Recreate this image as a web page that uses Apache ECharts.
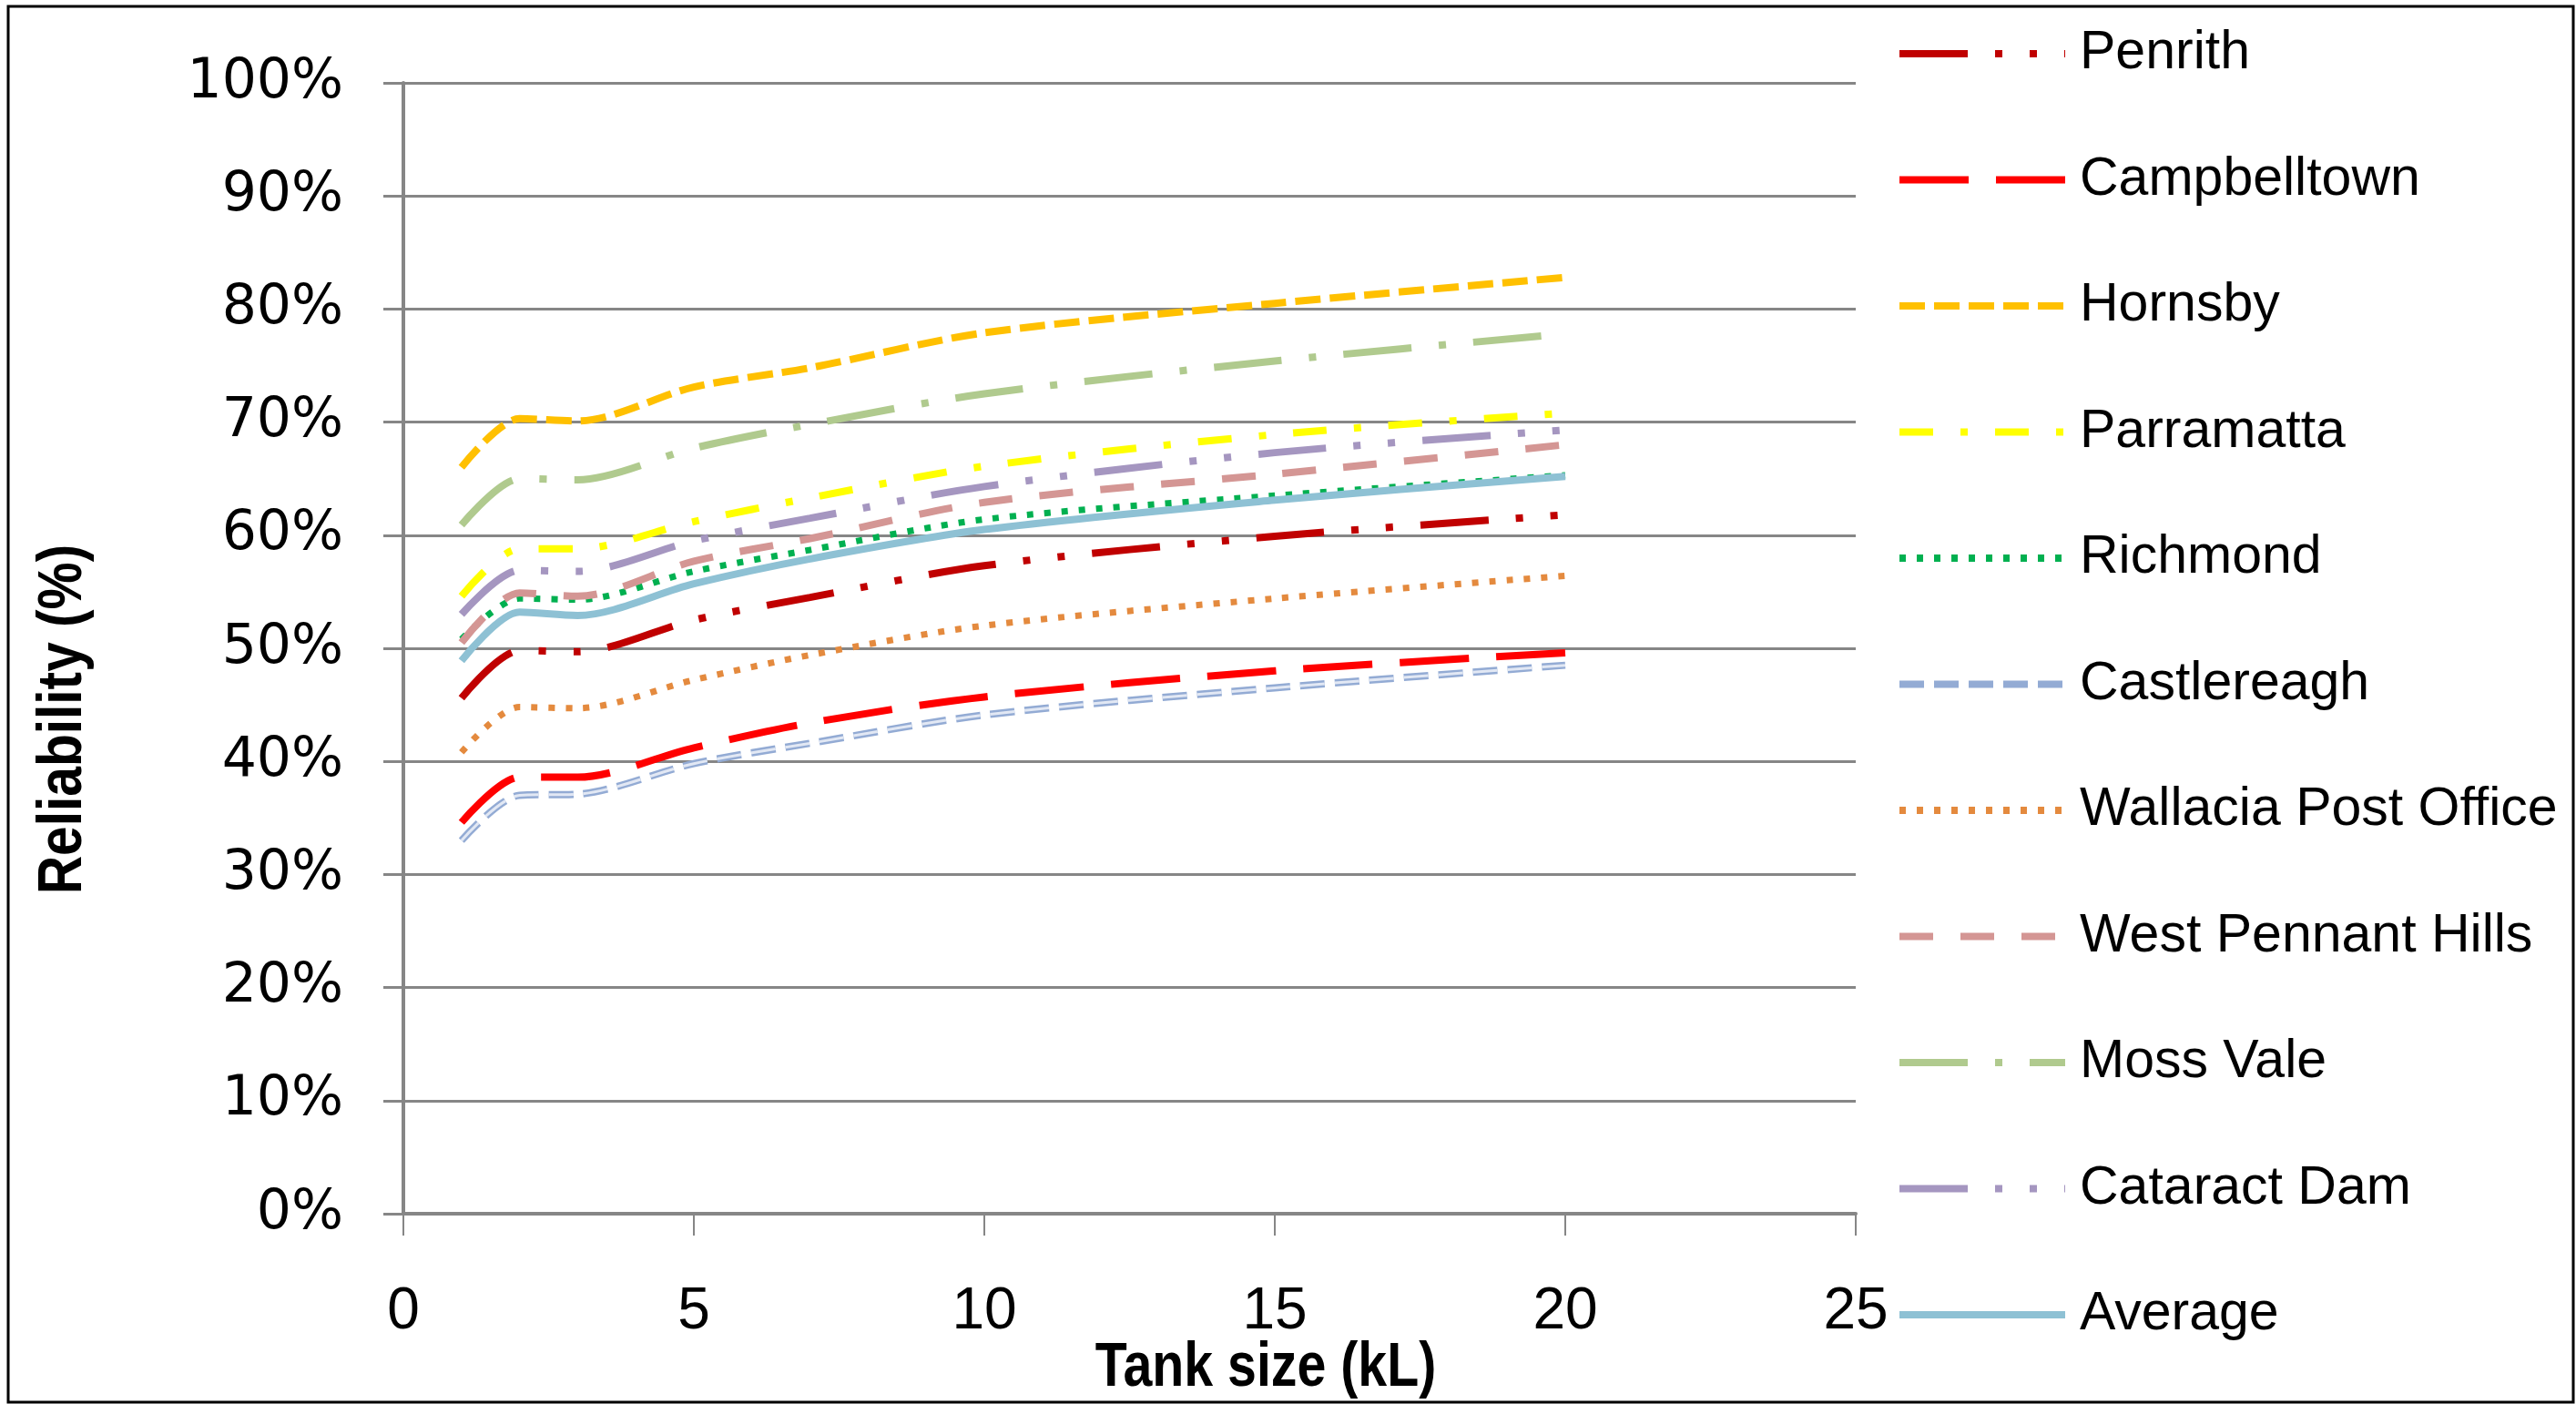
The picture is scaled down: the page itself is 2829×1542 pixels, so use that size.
<!DOCTYPE html>
<html>
<head>
<meta charset="utf-8">
<script src="https://cdn.jsdelivr.net/npm/echarts@6/dist/echarts.min.js"></script>
<style>
  html, body { margin: 0; padding: 0; background: #fff; }
  #chart { width: 2829px; height: 1542px; }
</style>
</head>
<body>
<div id="chart"></div>
<script>
// ---- data ----
const tankSize = [1, 2, 3, 5, 7, 10, 15, 20];
const seriesNames = ['Penrith', 'Campbelltown', 'Hornsby', 'Parramatta', 'Richmond', 'Castlereagh',
  'Wallacia Post Office', 'West Pennant Hills', 'Moss Vale', 'Cataract Dam', 'Average'];
const penrith      = [45.6, 49.8, 49.7, 52.5, 54.5, 57.3, 59.9, 61.8];
const campbelltown = [34.6, 38.6, 38.6, 41.2, 43.4, 45.7, 48.0, 49.6];
const hornsby      = [66.0, 70.3, 70.1, 73.1, 74.8, 77.9, 80.5, 82.8];
const parramatta   = [54.6, 58.8, 58.8, 61.2, 63.3, 66.1, 68.9, 70.8];
const richmond     = [50.8, 54.4, 54.3, 56.8, 58.7, 61.4, 63.5, 65.3];
const castlereagh  = [33.0, 37.0, 37.1, 39.8, 41.6, 44.1, 46.5, 48.5];
const wallacia     = [40.8, 44.8, 44.7, 47.2, 49.4, 52.0, 54.4, 56.4];
const westPennant  = [50.5, 54.9, 54.6, 57.7, 59.7, 62.9, 65.4, 68.0];
const mossVale     = [60.9, 65.0, 64.9, 67.7, 69.8, 72.5, 75.4, 77.8];
const cataractDam  = [53.0, 56.9, 56.8, 59.5, 61.5, 64.3, 67.3, 69.3];
const average      = [48.9, 53.2, 52.9, 55.7, 57.9, 60.5, 63.1, 65.2];
const xTicks = [0, 5, 10, 15, 20, 25];
const yTicks = [0, 10, 20, 30, 40, 50, 60, 70, 80, 90, 100];

const values = [penrith, campbelltown, hornsby, parramatta, richmond, castlereagh,
  wallacia, westPennant, mossVale, cataractDam, average];

// ---- styles ----
const styles = [
  { color: '#C00000', width: 8, dash: [75, 30, 8, 30, 8, 30] },
  { color: '#FF0000', width: 8, dash: [76, 30] },
  { color: '#FFC000', width: 8, dash: [28, 10] },
  { color: '#FFFF00', width: 8, dash: [37, 30, 8, 30] },
  { color: '#00B050', width: 7, dash: [7, 12] },
  { color: '#93ABD4', width: 8, dash: [27, 11] },
  { color: '#E48A3E', width: 7, dash: [7, 12] },
  { color: '#D49694', width: 8, dash: [37, 30] },
  { color: '#B0CA8E', width: 8, dash: [75, 30, 8, 30] },
  { color: '#A596C0', width: 8, dash: [75, 30, 8, 30, 8, 30] },
  { color: '#8EC1D4', width: 8, dash: 'solid' }
];

const SMOOTH = 0.3;
const pairs = arr => tankSize.map((x, i) => [x, arr[i]]);

const series = [];
seriesNames.forEach((name, i) => {
  series.push({
    name: name,
    type: 'line',
    data: pairs(values[i]),
    symbol: 'none',
    smooth: SMOOTH,
    lineStyle: { color: styles[i].color, width: styles[i].width, type: styles[i].dash, cap: 'butt' },
    itemStyle: { color: styles[i].color },
    z: 2 + i
  });
  if (name === 'Castlereagh') {
    series.push({
      name: 'Castlereagh inner',
      type: 'line',
      data: pairs(values[i]),
      symbol: 'none',
      smooth: SMOOTH,
      lineStyle: { color: '#E2E8F4', width: 3, type: styles[i].dash, cap: 'butt' },
      itemStyle: { color: '#E2E8F4' },
      z: 2 + i,
      silent: true
    });
  }
});

const chart = echarts.init(document.getElementById('chart'), null, { renderer: 'canvas' });
const gray = '#868686';
chart.setOption({
  animation: false,
  backgroundColor: '#ffffff',
  grid: { left: 443, right: 791, top: 91, bottom: 209, containLabel: false },
  xAxis: {
    type: 'value', min: xTicks[0], max: xTicks[xTicks.length - 1], interval: 5,
    axisLine: { show: true, lineStyle: { color: gray, width: 4 } },
    axisTick: { show: true, length: 24, lineStyle: { color: gray, width: 2 } },
    splitLine: { show: false },
    axisLabel: {
      margin: 76, color: '#000', fontSize: 64,
      fontFamily: '"Liberation Sans Narrow", "Liberation Sans", sans-serif'
    }
  },
  yAxis: {
    type: 'value', min: yTicks[0], max: yTicks[yTicks.length - 1], interval: 10,
    axisLine: { show: true, lineStyle: { color: gray, width: 4 } },
    axisTick: { show: true, length: 22, lineStyle: { color: gray, width: 3 } },
    splitLine: { show: true, lineStyle: { color: gray, width: 3 } },
    axisLabel: {
      margin: 66, color: '#000', fontSize: 60, fontFamily: '"DejaVu Sans", sans-serif',
      formatter: '{value}%'
    }
  },
  legend: {
    orient: 'vertical', left: 2077, top: 19,
    itemWidth: 182, itemHeight: 20, itemGap: 68.5,
    data: seriesNames,
    itemStyle: { color: 'rgba(0,0,0,0)', borderWidth: 0 },
    lineStyle: { width: 8 },
    selectedMode: false,
    textStyle: {
      fontFamily: '"Liberation Sans", sans-serif', fontSize: 59, color: '#000',
      lineHeight: 70, padding: [0, 0, 0, 11]
    }
  },
  graphic: [
    {
      type: 'text', x: 1390, y: 1503, scaleX: 0.83,
      style: {
        text: 'Tank size (kL)', textAlign: 'center', textVerticalAlign: 'middle',
        font: 'bold 69px "Liberation Sans", sans-serif', fill: '#000'
      }
    },
    {
      type: 'text', x: 70, y: 790, rotation: Math.PI / 2, scaleX: 0.85,
      style: {
        text: 'Reliability (%)', textAlign: 'center', textVerticalAlign: 'middle',
        font: 'bold 69px "Liberation Sans", sans-serif', fill: '#000'
      }
    },
    {
      type: 'rect', shape: { x: 9, y: 7, width: 2817, height: 1533 },
      style: { fill: 'none', stroke: '#000', lineWidth: 3 }, silent: true
    }
  ],
  series: series
});
</script>
</body>
</html>
